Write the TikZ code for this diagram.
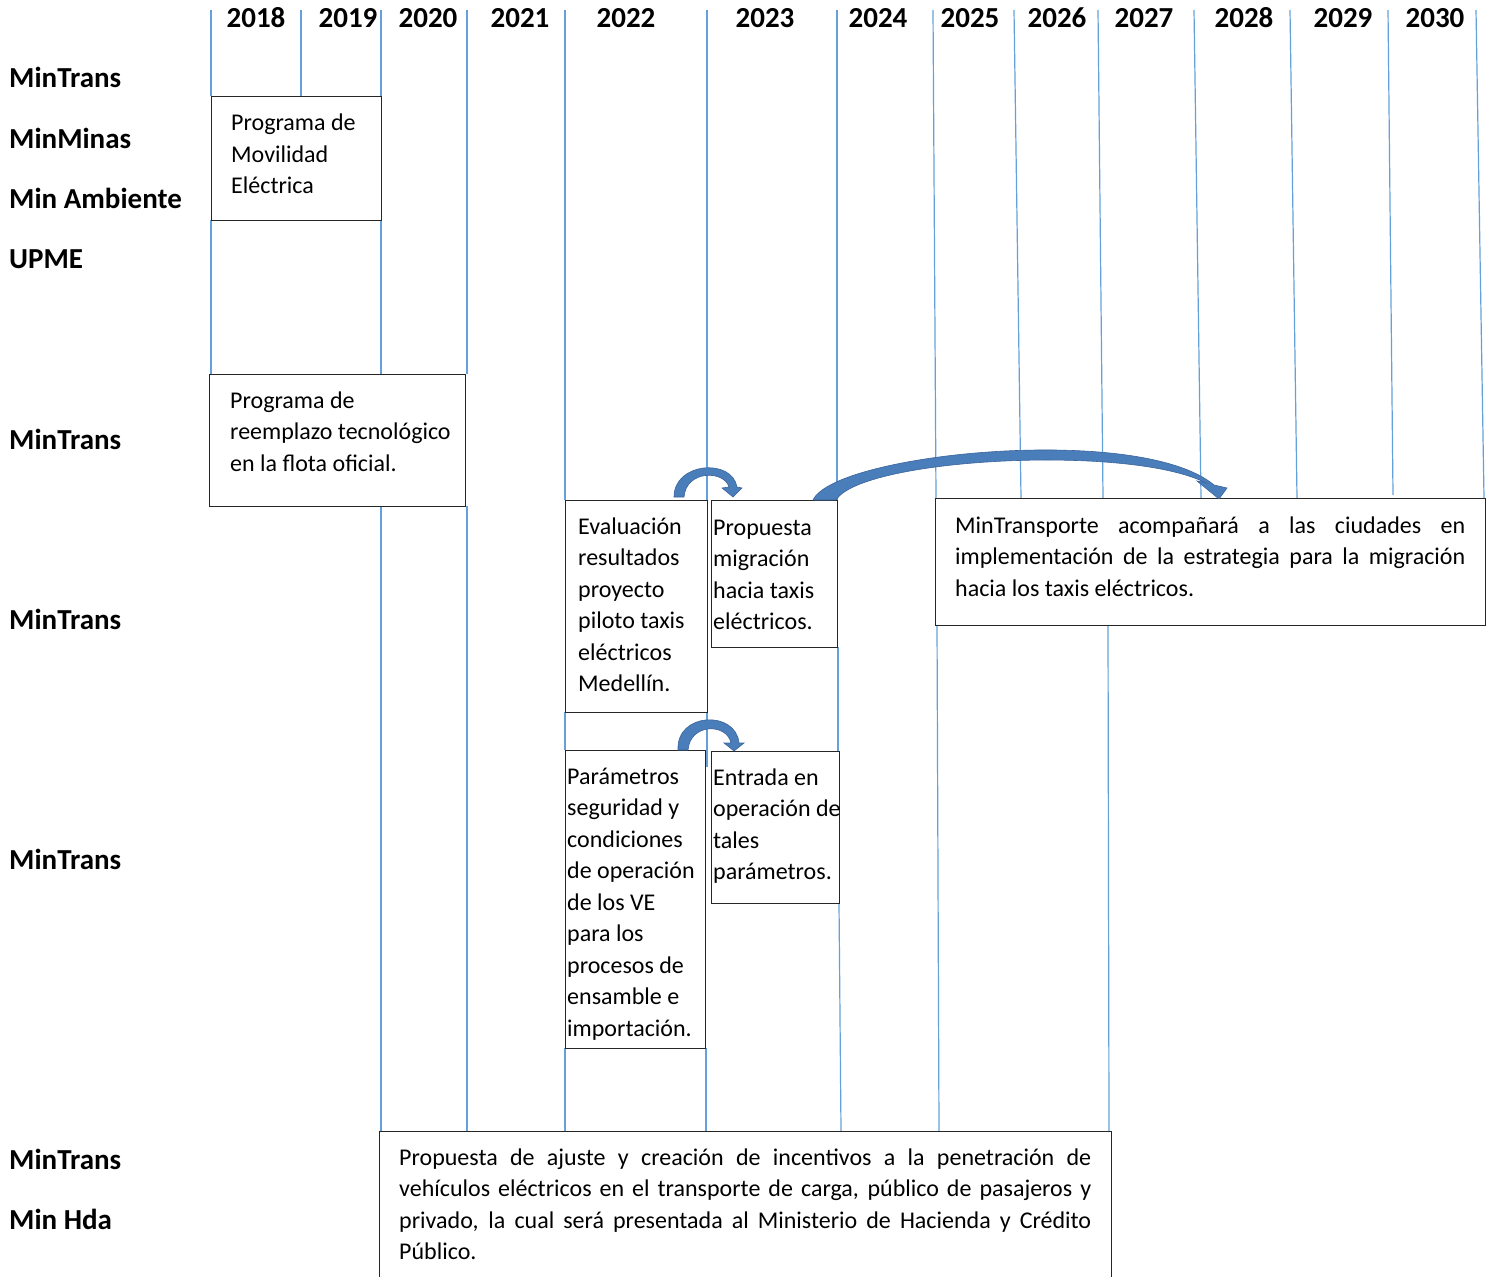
\documentclass[tikz,border=0pt]{standalone}
\usepackage{fontspec}
\setmainfont{Carlito}
\definecolor{vblue}{RGB}{100,160,218}
\definecolor{arrowblue}{RGB}{74,126,187}
\definecolor{arrowedge}{RGB}{58,100,155}
\begin{document}
\begin{tikzpicture}[x=1pt,y=-1pt,
  vline/.style={draw=vblue, line width=1.2pt},
  box/.style={draw=black!85, line width=1.2pt, fill=white, inner sep=0pt, anchor=north west},
  btext/.style={font=\fontsize{24}{31.5}\selectfont, inner sep=0pt, anchor=base west},
  lab/.style={font=\fontsize{29}{34}\selectfont\bfseries, inner sep=0pt, anchor=base west},
  yr/.style={font=\fontsize{29}{34}\selectfont\bfseries, inner sep=0pt, anchor=base},
  carrow/.style={fill=arrowblue, draw=arrowedge, line width=0.6pt}]
\useasboundingbox (0,0) rectangle (1490,1276);
\clip (0,0) rectangle (1490,1276);
\fill[white] (0,0) rectangle (1490,1276);

% vertical year lines
\draw[vline] (211,10) -- (211,96);  \draw[vline] (211,220) -- (211,374);
\draw[vline] (301,10) -- (301,96);
\draw[vline] (381,10) -- (381,96);  \draw[vline] (381,220) -- (381,374); \draw[vline] (381,506) -- (381,1131);
\draw[vline] (467,10) -- (467,374); \draw[vline] (467,506) -- (467,1131);
\draw[vline] (565,10) -- (565,500); \draw[vline] (565,712) -- (565,750); \draw[vline] (565,1048) -- (565,1131);
\draw[vline] (707,10) -- (707,500); \draw[vline] (707,712) -- (707,767); \draw[vline] (706,1048) -- (706,1131);
\draw[vline] (837,10) -- (837,500); \draw[vline] (838,647) -- (838,751); \draw[vline] (839,903) -- (841,1131);
\draw[vline] (933,10) -- (936,498); \draw[vline] (937,625) -- (939,1131);
\draw[vline] (1014,10) -- (1021,498);
\draw[vline] (1098,10) -- (1103,498); \draw[vline] (1108,625) -- (1109,1131);
\draw[vline] (1194,10) -- (1201,498);
\draw[vline] (1290,10) -- (1297,498);
\draw[vline] (1388,10) -- (1393,495);
\draw[vline] (1476,10) -- (1484,498);

% years
\node[yr] (y18) at (256,28) {2018};
\node[yr] (y19) at (348,28) {2019};
\node[yr] (y20) at (428,28) {2020};
\node[yr] (y21) at (520,28) {2021};
\node[yr] (y22) at (626,28) {2022};
\node[yr] (y23) at (765,28) {2023};
\node[yr] (y24) at (878,28) {2024};
\node[yr] (y25) at (970,28) {2025};
\node[yr] (y26) at (1057,28) {2026};
\node[yr] (y27) at (1144,28) {2027};
\node[yr] (y28) at (1244,28) {2028};
\node[yr] (y29) at (1343,28) {2029};
\node[yr] (y30) at (1435,28) {2030};

% row labels
\node[lab] (l1) at (9,88) {MinTrans};
\node[lab] (l2) at (9,149) {MinMinas};
\node[lab] (l3) at (9,208) {Min Ambiente};
\node[lab] (l4) at (9,268) {UPME};
\node[lab] (l5) at (9,449) {MinTrans};
\node[lab] (l6) at (9,629) {MinTrans};
\node[lab] (l7) at (9,869) {MinTrans};
\node[lab] (l8) at (9,1169) {MinTrans};
\node[lab] (l9) at (9,1229) {Min Hda};

% boxes
\node[box, minimum width=170pt, minimum height=124pt] (b1) at (211,96) {};
\node[box, minimum width=256pt, minimum height=132pt] (b2) at (209,374) {};
\node[box, minimum width=142pt, minimum height=212pt] (b3) at (565,500) {};
\node[box, minimum width=126pt, minimum height=147pt] (b4) at (711,500) {};
\node[box, minimum width=550pt, minimum height=127pt] (b5) at (935,498) {};
\node[box, minimum width=140pt, minimum height=298pt] (b6) at (565,750) {};
\node[box, minimum width=128pt, minimum height=152pt] (b7) at (711,751) {};
\node[box, minimum width=732pt, minimum height=170pt] (b8) at (379,1131) {};

% box texts
\node[btext] (t1) at (231,131) {\parbox[t]{150pt}{Programa de\\Movilidad\\Eléctrica}};
\node[btext] (t2) at (230,408) {\parbox[t]{240pt}{Programa de\\reemplazo tecnológico\\en la flota oficial.}};
\node[btext] (t3) at (578,534) {\parbox[t]{130pt}{Evaluación\\resultados\\proyecto\\piloto taxis\\eléctricos\\Medellín.}};
\node[btext] (t4) at (713,535) {\parbox[t]{130pt}{Propuesta\\migración\\hacia taxis\\eléctricos.}};
\node[btext] (t5) at (955,533) {\parbox[t]{520pt}{\makebox[510pt][s]{MinTransporte acompañará a las ciudades en}\\\makebox[510pt][s]{implementación de la estrategia para la migración}\\hacia los taxis eléctricos.}};
\node[btext] (t6) at (567,784) {\parbox[t]{140pt}{Parámetros\\seguridad y\\condiciones\\de operación\\de los VE\\para los\\procesos de\\ensamble e\\importación.}};
\node[btext] (t7) at (713,785) {\parbox[t]{140pt}{Entrada en\\operación de\\tales\\parámetros.}};
\node[btext] (t8) at (399,1165) {\parbox[t]{700pt}{\makebox[692pt][s]{Propuesta de ajuste y creación de incentivos a la penetración de}\\\makebox[692pt][s]{vehículos eléctricos en el transporte de carga, público de pasajeros y}\\\makebox[692pt][s]{privado, la cual será presentada al Ministerio de Hacienda y Crédito}\\Público.}};

% curved block arrows
\path[carrow] (674,497) .. controls (674,462) and (732,458) .. (737,487) -- (742,488) -- (733,497) -- (722,488) -- (729,487) .. controls (724,470) and (686,470) .. (684,497) -- cycle;
\path[carrow] (678,750) .. controls (676,712) and (736,710) .. (739,743) -- (744,743) -- (734,751) -- (724,743) -- (731,743) .. controls (727,723) and (690,723) .. (688,750) -- cycle;
\path[carrow] (813,500) .. controls (835,453) and (1140,423) .. (1214,485) -- (1227,488) -- (1219,499) -- (1197,481) -- (1206,483) .. controls (1130,444) and (862,458) .. (836,500) -- cycle;
\end{tikzpicture}
\end{document}
